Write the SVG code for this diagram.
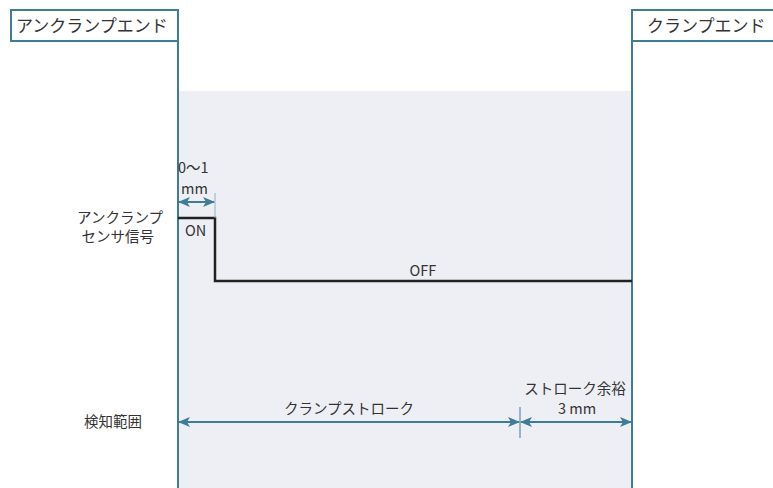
<svg xmlns="http://www.w3.org/2000/svg" width="773" height="488" viewBox="0 0 773 488">
<defs>
<style>
.t{font-family:"Noto Sans CJK JP","Noto Sans",sans-serif;fill:#333;font-size:14.5px}
.h{font-size:17px}
.box{fill:#fff;stroke:#3d7d96;stroke-width:2}
.ax{stroke:#3d7d96;stroke-width:2;fill:none}
.dim{stroke:#3d7d96;stroke-width:2;fill:none}
.sig{stroke:#222;stroke-width:2.5;fill:none}
</style>
<marker id="ah" viewBox="0 0 12 10" refX="11" refY="5" markerWidth="12" markerHeight="10" markerUnits="userSpaceOnUse" orient="auto-start-reverse">
<path d="M0,0 L12,5 L0,10 L3,5 Z" fill="#3d7d96"/>
</marker>
</defs>
<rect x="178" y="91" width="454" height="397" fill="#eeeff4"/>
<g id="unclamp-end">
<rect class="box" x="11" y="10" width="167" height="31"/>
<text class="t h" x="16" y="32">アンクランプエンド</text>
</g>
<g id="clamp-end">
<rect class="box" x="632" y="10" width="150" height="31"/>
<text class="t h" x="647" y="32">クランプエンド</text>
</g>
<g id="connectors">
<line class="ax" x1="178" y1="41" x2="178" y2="488"/>
<line class="ax" x1="632" y1="41" x2="632" y2="488"/>
<path class="sig" d="M178,218 H215 V281 H632"/>
<line x1="215" y1="193" x2="215" y2="218" stroke="#8ab3c4" stroke-width="1"/>
<line class="dim" x1="179" y1="202" x2="214" y2="202" marker-start="url(#ah)" marker-end="url(#ah)"/>
<line class="dim" x1="179" y1="422" x2="519" y2="422" marker-start="url(#ah)" marker-end="url(#ah)"/>
<line x1="520" y1="407" x2="520" y2="438" stroke="#3d7d96" stroke-width="1"/>
<line class="dim" x1="521" y1="422" x2="631" y2="422" marker-start="url(#ah)" marker-end="url(#ah)"/>
</g>
<g id="labels">
<text class="t" x="178" y="173">0〜1</text>
<text class="t" x="181" y="194">mm</text>
<text class="t" x="185" y="236">ON</text>
<text class="t" x="423" y="276" text-anchor="middle">OFF</text>
<text class="t" x="163" y="223" text-anchor="end">アンクランプ</text>
<text class="t" x="154" y="242" text-anchor="end">センサ信号</text>
<text class="t" x="142" y="427" text-anchor="end">検知範囲</text>
<text class="t" x="349" y="414" text-anchor="middle">クランプストローク</text>
<text class="t" x="575" y="394" text-anchor="middle">ストローク余裕</text>
<text class="t" x="577" y="414" text-anchor="middle">3 mm</text>
</g>
</svg>
